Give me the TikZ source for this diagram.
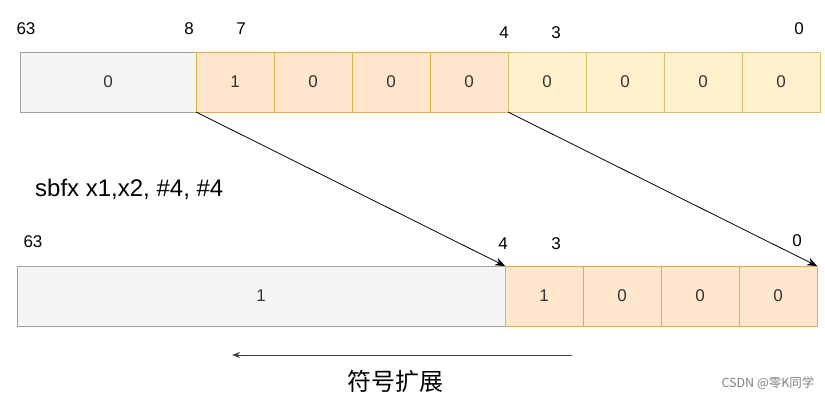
\documentclass[tikz,border=0pt]{standalone}
\usepackage{fontspec}
\setmainfont{Liberation Sans}
\newfontfamily\cjk{Noto Sans CJK SC}
\usetikzlibrary{arrows.meta}
\definecolor{gfill}{HTML}{F5F5F5}
\definecolor{gline}{HTML}{A0A0A0}
\definecolor{ofill}{HTML}{FFE6CC}
\definecolor{oline}{HTML}{E3AE45}
\definecolor{yfill}{HTML}{FFF2CC}
\definecolor{yline}{HTML}{DDC068}
\definecolor{txt}{HTML}{333333}
\tikzset{
  cellbase/.style={rectangle, inner sep=0pt, outer sep=0pt, minimum height=60pt, line width=1pt, font=\fontsize{17}{20}\selectfont, text=txt},
  greycell/.style={cellbase, fill=gfill, draw=gline},
  orcell/.style={cellbase, fill=ofill, draw=oline, minimum width=78pt},
  yecell/.style={cellbase, fill=yfill, draw=yline, minimum width=78pt},
  bitlbl/.style={inner sep=0pt, font=\fontsize{17}{20}\selectfont},
  link/.style={line width=0.8pt, -{Stealth[length=10pt,width=8pt]}},
}
\begin{document}
\begin{tikzpicture}[x=1pt,y=-1pt]
\useasboundingbox (0,0) rectangle (825,402);
% top row
\node[greycell, minimum width=176pt] (tg) at (108,82) {0};
\node[orcell] (t7) at (235,82) {1};
\node[orcell] (t6) at (313,82) {0};
\node[orcell] (t5) at (391,82) {0};
\node[orcell] (t4) at (469,82) {0};
\node[yecell] (t3) at (547,82) {0};
\node[yecell] (t2) at (625,82) {0};
\node[yecell] (t1) at (703,82) {0};
\node[yecell] (t0) at (781,82) {0};
% top labels
\node[bitlbl] (l63) at (26,29) {63};
\node[bitlbl] (l8) at (189,29) {8};
\node[bitlbl] (l7) at (241,29) {7};
\node[bitlbl] (l4) at (504,33) {4};
\node[bitlbl] (l3) at (556,33) {3};
\node[bitlbl] (l0) at (799,29) {0};
% instruction
\node[inner sep=0pt, anchor=west, font=\fontsize{24}{28}\selectfont] (ins) at (35,189) {sbfx x1,x2, \#4, \#4};
% bottom row
\node[greycell, minimum width=488pt] (bg) at (261,296) {1};
\node[orcell] (b3) at (544,296) {1};
\node[orcell] (b2) at (622,296) {0};
\node[orcell] (b1) at (700,296) {0};
\node[orcell] (b0) at (778,296) {0};
% bottom labels
\node[bitlbl] (m63) at (33,242) {63};
\node[bitlbl] (m4) at (503,244) {4};
\node[bitlbl] (m3) at (556,244) {3};
\node[bitlbl] (m0) at (797,241) {0};
% mapping arrows
\draw[link] (tg.south east) -- (bg.north east);
\draw[link] (t4.south east) -- (b0.north east);
% sign extension arrow
\coordinate (sa) at (572,355);
\coordinate (sb) at (232,355);
\draw[line width=1pt, draw=black!75, -{Stealth[length=8pt,width=6pt]}] (sa) -- (sb);
\node[inner sep=0pt, font=\cjk\fontsize{24}{28}\selectfont] (se) at (395,381) {符号扩展};
\node[inner sep=0pt, text=black!50, font=\cjk\fontsize{12.5}{15}\selectfont] (wm) at (768,383) {CSDN @零K同学};
\end{tikzpicture}
\end{document}
